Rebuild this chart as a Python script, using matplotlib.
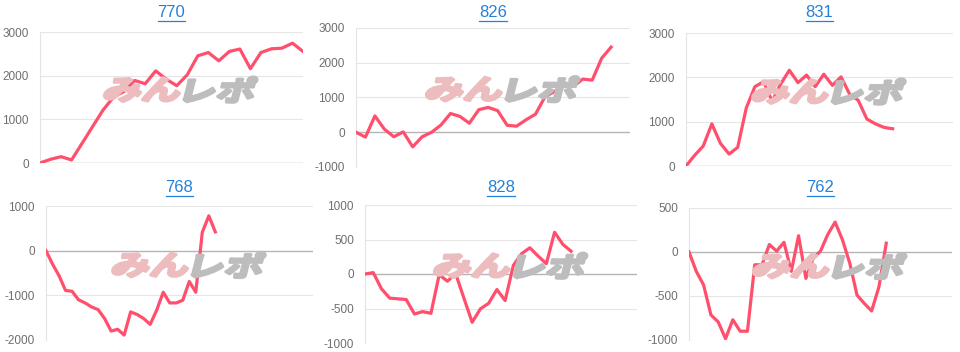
import matplotlib.pyplot as plt
import numpy as np
from matplotlib.textpath import TextPath
from matplotlib.patches import PathPatch
from matplotlib.font_manager import FontProperties
from matplotlib.transforms import Affine2D, IdentityTransform

# machine numbers (titles)
titles = ["770", "826", "831", "768", "828", "762"]

# cumulative medal difference per game
s770 = [0, 85, 145, 70, 450, 835, 1215, 1510, 1640, 1890, 1815, 2110, 1920,
        1770, 2020, 2455, 2530, 2340, 2555, 2610, 2160, 2530, 2615, 2630, 2745, 2555]
s826 = [0, -140, 470, 90, -130, 10, -420, -130, 0, 210, 540, 455, 260, 650,
        715, 620, 200, 175, 360, 520, 1020, 1170, 1320, 1320, 1530, 1500, 2130, 2450]
s831 = [0, 240, 450, 950, 510, 270, 420, 1310, 1790, 1900, 1460, 1850, 2160,
        1880, 2050, 1790, 2070, 1820, 2010, 1620, 1480, 1060, 950, 870, 840]
s768 = [0, -300, -560, -890, -910, -1100, -1170, -1260, -1320, -1520, -1800,
        -1760, -1890, -1370, -1430, -1520, -1650, -1330, -930, -1170, -1170,
        -1110, -690, -930, 410, 780, 420]
s828 = [0, 20, -215, -350, -360, -370, -580, -545, -570, -10, -105, 5, -350,
        -700, -505, -425, -225, -385, 125, 295, 380, 260, 150, 605, 430, 330]
s762 = [0, -220, -375, -715, -795, -985, -770, -900, -900, -145, -145, 85, 10,
        110, -220, 185, -300, -70, 10, 200, 340, 140, -125, -490, -585, -670,
        -395, 100]
series = [s770, s826, s831, s768, s828, s762]

# number of x slots on each chart
slots = [25, 29, 31, 41, 33, 36]
yticks = [[0, 1000, 2000, 3000], [-1000, 0, 1000, 2000, 3000], [0, 1000, 2000, 3000],
          [-2000, -1000, 0, 1000], [-1000, -500, 0, 500, 1000], [-1000, -500, 0, 500]]

# axes boxes in pixels: left, top, right, bottom
boxes = [(40, 32, 303, 163), (356, 28, 630, 167), (686, 33, 953, 166),
         (46, 206, 313, 340), (365, 205, 637, 343), (689, 208, 952, 340)]

W, H = 960, 352
fig = plt.figure(figsize=(W / 100, H / 100), dpi=100)
fig.patch.set_facecolor("white")

wm_font = FontProperties(family="Noto Sans CJK JP", weight="bold")


def watermark(cx, cy):
    # slanted logo text behind the line, cx/cy in pixels from top-left
    for s, col, side in [("みん", "#ecbcbf", "left"), ("レポ", "#bdbdbd", "right")]:
        p = TextPath((0, 0), s, size=39, prop=wm_font)
        ext = p.get_extents()
        tr = Affine2D().translate(-ext.x0, -(ext.y0 + ext.y1) / 2)
        tr = tr.scale(1.0, 0.7).skew_deg(14, 0)
        w = ext.width
        x0 = cx - w - 3 if side == "left" else cx + 3
        tr = tr.translate(x0, H - cy)
        fig.add_artist(PathPatch(tr.transform_path(p), transform=IdentityTransform(),
                                 facecolor=col, edgecolor=col, lw=2.2,
                                 joinstyle="round", zorder=0.5))


for i in range(6):
    l, t, r, b = boxes[i]
    ax = fig.add_axes([l / W, 1 - b / H, (r - l) / W, (b - t) / H])
    y = series[i]
    x = np.arange(len(y))

    watermark(l + 0.545 * (r - l), t + 0.44 * (b - t))

    ax.plot(x, y, color="#ff4f6d", lw=2.3, zorder=3)
    ax.set_xlim(0, slots[i])
    ax.set_ylim(yticks[i][0], yticks[i][-1])
    ax.set_yticks(yticks[i])
    ax.set_yticklabels([str(v) for v in yticks[i]], family="Liberation Sans",
                       fontsize=8.5, color="#6f6f6f")
    ax.set_xticks([])
    ax.tick_params(axis="y", length=0, pad=8)
    for v in yticks[i]:
        if v == 0:
            ax.axhline(v, color="#b5b5b5", lw=1, zorder=2)
        else:
            ax.axhline(v, color="#e6e6e6", lw=0.8, zorder=0)
    for side in ["top", "right", "bottom"]:
        ax.spines[side].set_visible(False)
    ax.spines["left"].set_color("#e4e4e4")
    ax.spines["left"].set_linewidth(0.8)
    ax.patch.set_alpha(0)

# titles, blue and underlined like links
fig.canvas.draw()
rend = fig.canvas.get_renderer()
for i in range(6):
    l, t, r, b = boxes[i]
    cy = 12.5 if i < 3 else 187
    cx = (l + r) / 2
    txt = fig.text(cx / W, 1 - cy / H, titles[i], ha="center", va="center",
                   family="Liberation Sans", fontsize=12, color="#2680d8")
    bb = txt.get_window_extent(rend)
    uy = bb.y0 - 1
    fig.add_artist(plt.Line2D([bb.x0 / W, bb.x1 / W], [uy / H, uy / H],
                              transform=fig.transFigure, color="#2680d8", lw=0.9))

plt.savefig("out.png", dpi=100)
